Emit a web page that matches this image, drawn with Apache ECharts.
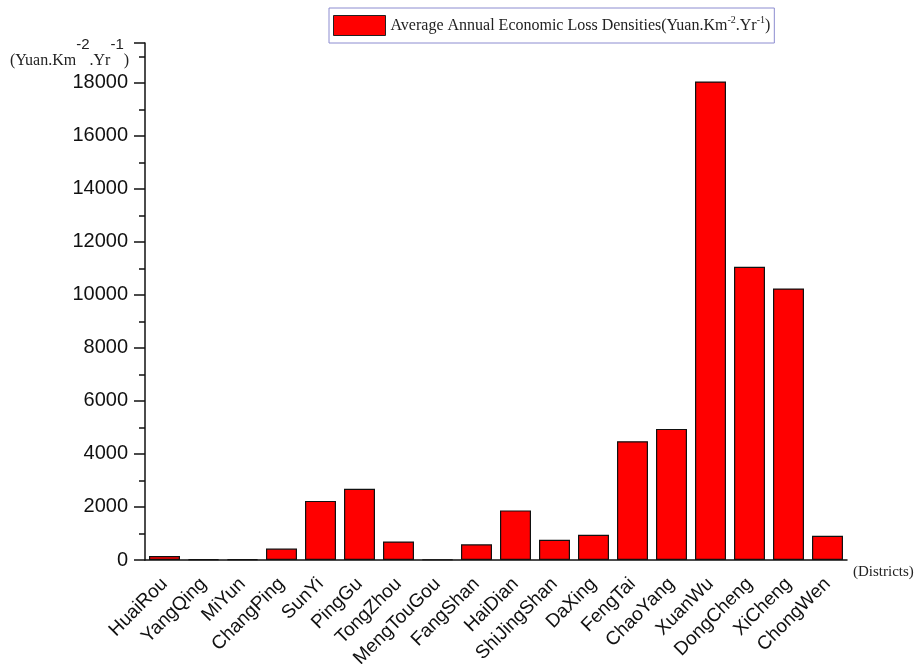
<!DOCTYPE html>
<html>
<head>
<meta charset="utf-8">
<title>Average Annual Economic Loss Densities</title>
<script src="https://cdn.jsdelivr.net/npm/echarts@6/dist/echarts.min.js"></script>
<style>
  html, body { margin: 0; padding: 0; background: #fff; }
  #chart { width: 917px; height: 664px; }
</style>
</head>
<body>
<div id="chart"></div>
<script>
// districts along the x axis
const districts = [
  'HuaiRou', 'YangQing', 'MiYun', 'ChangPing', 'SunYi', 'PingGu',
  'TongZhou', 'MengTouGou', 'FangShan', 'HaiDian', 'ShiJingShan', 'DaXing',
  'FengTai', 'ChaoYang', 'XuanWu', 'DongCheng', 'XiCheng', 'ChongWen'
];

// average annual economic loss density, Yuan per km2 per year
const lossDensity = [
  150, 30, 30, 430, 2230, 2690,
  700, 20, 590, 1870, 765, 950,
  4480, 4945, 18050, 11060, 10240, 915
];

const yTicks = { min: 0, max: 19500, step: 2000 };

const serif = '"Liberation Serif", "Times New Roman", serif';
const sans = '"Liberation Sans", Arial, sans-serif';

const chart = echarts.init(document.getElementById('chart'));

const options = {
  animation: false,
  grid: {
    left: 145,
    right: 70,
    top: 43,
    bottom: 104,
    outerBoundsMode: 'none',
  },
  legend: {
    left: 329,
    top: 8,
    icon: 'rect',
    itemWidth: 52,
    itemHeight: 20,
    itemGap: 8,
    padding: [7, 4, 7, 4],
    borderColor: '#8c8cd0',
    borderWidth: 1,
    itemStyle: {
      borderColor: '#222',
      borderWidth: 1,
    },
    formatter() {
      return '{a|Average Annual Economic Loss Densities(Yuan.Km}{s|-2}{a|.Yr}{s|-1}{a|)}';
    },
    textStyle: {
      rich: {
        a: { fontFamily: serif, fontSize: 16, color: '#222', lineHeight: 20 },
        s: { fontFamily: serif, fontSize: 10, color: '#222', verticalAlign: 'top', lineHeight: 12 },
      },
    },
  },
  xAxis: [
    {
      type: 'category',
      data: districts,
      position: 'bottom',
      axisLine: { lineStyle: { color: '#111', width: 1.5 } },
      axisTick: { alignWithLabel: true, length: 12, lineStyle: { color: '#111', width: 1.5 } },
      axisLabel: {
        rotate: 45,
        interval: 0,
        margin: 21,
        fontFamily: sans,
        fontSize: 19,
        color: '#111',
      },
    },
    {
      type: 'category',
      data: districts,
      position: 'bottom',
      axisLine: { show: false },
      axisTick: { length: 5, lineStyle: { color: '#111', width: 1.5 } },
      axisLabel: { show: false },
    },
  ],
  yAxis: {
    type: 'value',
    min: yTicks.min,
    max: yTicks.max,
    interval: yTicks.step,
    splitLine: { show: false },
    axisLine: { show: true, lineStyle: { color: '#111', width: 1.5 } },
    axisTick: { show: true, length: 11, lineStyle: { color: '#111', width: 1.5 } },
    minorTick: { show: true, splitNumber: 2, length: 6, lineStyle: { color: '#111', width: 1.5 } },
    axisLabel: {
      showMaxLabel: false,
      margin: 17,
      fontFamily: sans,
      fontSize: 20,
      color: '#111',
      formatter: (v) => String(v),
    },
  },
  graphic: [
    {
      type: 'text',
      left: 10,
      top: 37,
      style: {
        text: '{a|(Yuan.Km}{s|-2}{a|.Yr}{s|-1}{a|)}',
        rich: {
          a: { fontFamily: serif, fontSize: 16, fill: '#222', lineHeight: 32, verticalAlign: 'bottom' },
          s: { fontFamily: sans, fontSize: 15, fill: '#222', lineHeight: 32, verticalAlign: 'top' },
        },
      },
    },
    {
      type: 'text',
      left: 853,
      top: 565,
      style: {
        text: '(Districts)',
        font: '15px ' + serif,
        fill: '#222',
      },
    },
  ],
  series: [
    {
      name: 'Average Annual Economic Loss Densities',
      type: 'bar',
      xAxisIndex: 0,
      barWidth: 31,
      itemStyle: {
        color: '#ff0000',
        borderColor: '#111',
        borderWidth: 1.2,
      },
      data: lossDensity,
    },
  ],
};

chart.setOption(options);
</script>
</body>
</html>
